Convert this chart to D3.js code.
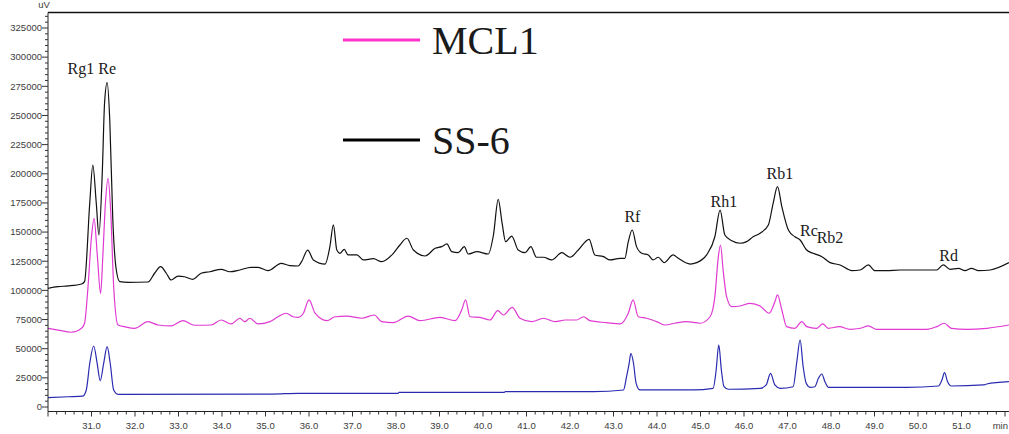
<!DOCTYPE html>
<html>
<head>
<meta charset="utf-8">
<script src="https://cdn.jsdelivr.net/npm/d3@7"></script>
<style>
  body { margin: 0; background: white; }
  svg { display: block; }
  .tick-label { font-family: "Liberation Sans", Arial, sans-serif; font-size: 9.5px; fill: #3c3c3c; }
  .peak-label { font-family: "Liberation Serif", "Times New Roman", serif; font-size: 16px; fill: #1a1a1a; }
  .legend-label { font-family: "Liberation Serif", "Times New Roman", serif; font-size: 40px; fill: #1a1a1a; }
</style>
</head>
<body>
<svg id="chart" width="1009" height="434"></svg>
<script>
// retention time (min), signal (uV)
const ss6 = [
  [30.00,101800],[30.23,103200],[30.46,103800],[30.77,105500],[30.84,107500],[30.96,175000],
  [31.03,207500],[31.11,174700],[31.17,147500],[31.25,203300],[31.30,260500],[31.36,278100],
  [31.42,246100],[31.49,160400],[31.57,117500],[31.65,107500],[31.84,106900],[32.30,107200],
  [32.45,114700],[32.59,120300],[32.72,114700],[32.83,108900],[32.99,112300],[33.14,111700],
  [33.33,109500],[33.52,114700],[33.72,116000],[33.98,118100],[34.18,116000],[34.41,117500],
  [34.67,119800],[34.83,119800],[35.06,116900],[35.36,123200],[35.56,121200],[35.75,120900],
  [35.83,124600],[35.97,134600],[36.10,126100],[36.37,122600],[36.48,137500],[36.56,156100],
  [36.64,134600],[36.71,131800],[36.81,135200],[36.90,130400],[37.10,130400],[37.25,126100],
  [37.48,127200],[37.67,124600],[37.94,131800],[38.09,138900],[38.25,144700],[38.40,134600],
  [38.67,129500],[38.90,136100],[39.05,137500],[39.17,139800],[39.28,133200],[39.43,132300],
  [39.57,137500],[39.66,131200],[39.86,133200],[40.12,131200],[40.24,147500],[40.35,178100],
  [40.44,157500],[40.52,141800],[40.66,146600],[40.81,134600],[40.97,132300],[41.10,137500],
  [41.23,128400],[41.39,128400],[41.58,126100],[41.81,132300],[42.00,128400],[42.19,134600],
  [42.44,143800],[42.57,130400],[42.77,128900],[42.92,126100],[43.15,127500],[43.26,127500],
  [43.34,141800],[43.43,151800],[43.53,137500],[43.65,131800],[43.80,130400],[43.91,126100],
  [44.03,128400],[44.16,123800],[44.37,130400],[44.49,127500],[44.76,122600],[44.91,123800],
  [45.14,130400],[45.33,146000],[45.45,168900],[45.56,147500],[45.72,142600],[45.91,140400],
  [46.06,141800],[46.21,146000],[46.37,149000],[46.56,156100],[46.67,174700],[46.77,188900],
  [46.87,171800],[47.02,151800],[47.17,146000],[47.29,143200],[47.44,134600],[47.59,131800],
  [47.79,128900],[47.98,123800],[48.21,121800],[48.48,116900],[48.67,117500],[48.86,121800],
  [49.01,116900],[49.28,116900],[49.59,117500],[49.93,117500],[50.43,117500],[50.58,121800],
  [50.74,118100],[50.93,118900],[51.08,116900],[51.23,118900],[51.39,116900],[51.66,117500],
  [52.09,123800]
];

const mcl1 = [
  [30.00,67500],[30.23,66000],[30.54,64100],[30.77,67500],[30.84,71800],[30.92,103200],
  [31.00,146000],[31.06,161800],[31.13,131800],[31.21,97500],[31.26,128900],[31.32,174700],
  [31.38,196100],[31.44,168900],[31.51,103200],[31.61,70300],[31.76,68900],[31.99,67500],
  [32.30,73200],[32.53,70300],[32.83,69500],[33.10,74000],[33.37,70100],[33.75,70300],
  [33.98,74600],[34.21,71200],[34.41,76100],[34.52,73200],[34.64,76100],[34.83,71200],
  [35.10,73200],[35.29,77400],[35.48,80400],[35.63,77400],[35.75,76900],[35.87,80400],
  [36.00,91800],[36.14,80400],[36.41,74000],[36.60,77400],[36.87,78000],[37.21,76100],
  [37.50,78900],[37.67,73200],[37.94,72300],[38.28,78000],[38.55,74000],[39.01,76900],
  [39.36,74000],[39.51,83200],[39.60,91800],[39.70,77400],[39.93,76900],[40.16,74600],
  [40.34,82600],[40.47,78900],[40.67,85500],[40.85,76100],[41.12,73200],[41.39,76100],
  [41.66,73200],[41.89,74600],[42.15,74600],[42.31,77400],[42.46,74000],[42.84,72300],
  [43.15,71200],[43.34,80400],[43.45,91800],[43.57,77400],[43.76,76100],[43.99,73200],
  [44.18,70300],[44.41,71800],[44.68,73200],[44.99,71800],[45.22,77400],[45.33,94600],
  [45.41,128900],[45.46,138900],[45.52,117500],[45.60,94600],[45.72,86000],[45.91,86600],
  [46.14,88900],[46.37,86600],[46.58,80400],[46.71,90300],[46.77,96100],[46.87,83200],
  [46.98,68900],[47.17,67500],[47.33,73200],[47.44,68900],[47.67,67500],[47.81,71200],
  [47.94,67500],[48.19,68900],[48.44,66600],[48.67,67500],[48.86,69500],[49.05,66600],
  [49.59,66600],[50.20,66600],[50.43,68900],[50.60,71800],[50.77,67500],[51.12,66600],
  [51.58,67500],[52.09,70300]
];

const standards = [
  [30.00,8000],[30.46,8800],[30.80,9400],[30.88,14600],[30.96,37500],[31.05,52300],
  [31.13,37500],[31.20,22600],[31.28,37500],[31.36,51700],[31.43,37500],[31.51,14600],
  [31.61,10900],[35.13,11100],[35.75,11700],[38.05,11700],[38.07,12600],[40.49,12600],
  [40.51,13100],[42.54,13100],[43.23,14600],[43.30,26000],[43.36,37500],[43.40,46100],
  [43.46,37500],[43.52,20300],[43.61,14600],[44.83,14600],[45.29,16000],[45.36,31700],
  [45.42,53200],[45.48,31700],[45.54,17400],[45.64,15200],[46.37,16000],[46.51,18900],
  [46.61,28900],[46.71,18900],[46.83,16000],[47.13,17400],[47.21,37500],[47.29,57500],
  [47.36,34600],[47.43,20300],[47.52,16900],[47.63,17400],[47.71,24600],[47.79,28300],
  [47.86,21700],[47.94,16900],[49.74,16900],[50.47,18000],[50.55,23200],[50.61,29400],
  [50.68,21700],[50.77,18000],[51.50,18900],[51.58,19700],[52.09,21700]
];

// peak names, where each label starts (time) and its baseline (signal)
const peak_names = ["Rg1 Re", "Rf", "Rh1", "Rb1", "Rc", "Rb2", "Rd"];
const peak_times = [30.45, 43.25, 45.23, 46.52, 47.29, 47.67, 50.49];
const peak_heights = [285600, 158900, 171800, 195300, 146600, 140400, 125400];

const legend_names = ["MCL1", "SS-6"];
const colors = ["#111111", "#e03ad2", "#2b2bb0"];

const svg = d3.select("#chart");

const x = d3.scaleLinear().domain([30, 52]).range([48, 1005]);
const y = d3.scaleLinear().domain([0, 325000]).range([407, 28]);

const plotTop = 12.5;
const axisY = 411.5;

// clip traces to the plot
svg.append("clipPath").attr("id", "plot-clip")
  .append("rect")
  .attr("x", 48).attr("y", plotTop)
  .attr("width", 1009 - 48).attr("height", axisY - plotTop);

const line = d3.line()
  .x(d => x(d[0]))
  .y(d => y(d[1]))
  .curve(d3.curveMonotoneX);

const traces = svg.append("g").attr("clip-path", "url(#plot-clip)");

// blue first, then magenta, black on top
[[standards, colors[2]], [mcl1, colors[1]], [ss6, colors[0]]].forEach(([data, color]) => {
  traces.append("path")
    .datum(data)
    .attr("fill", "none")
    .attr("stroke", color)
    .attr("stroke-width", 1.2)
    .attr("stroke-linejoin", "round")
    .attr("d", line);
});

// frame: top line, left axis, bottom axis
svg.append("line")
  .attr("x1", 48).attr("x2", 1009)
  .attr("y1", plotTop).attr("y2", plotTop)
  .attr("stroke", "#111").attr("stroke-width", 1.3);

svg.append("line")
  .attr("x1", 48).attr("x2", 48)
  .attr("y1", plotTop).attr("y2", axisY)
  .attr("stroke", "#222").attr("stroke-width", 1);

svg.append("line")
  .attr("x1", 48).attr("x2", 1009)
  .attr("y1", axisY).attr("y2", axisY)
  .attr("stroke", "#222").attr("stroke-width", 1);

// y ticks
const yMinor = d3.range(0, 335001, 5000);
svg.append("g").selectAll("line")
  .data(yMinor)
  .enter()
  .append("line")
  .attr("x1", d => d % 25000 == 0 ? 42 : 45)
  .attr("x2", 48)
  .attr("y1", d => y(d)).attr("y2", d => y(d))
  .attr("stroke", "#333").attr("stroke-width", 1);

const yMajor = d3.range(0, 325001, 25000);
svg.append("g").selectAll("text")
  .data(yMajor)
  .enter()
  .append("text")
  .attr("class", "tick-label")
  .attr("text-anchor", "end")
  .attr("x", 42)
  .attr("y", d => y(d) + 3.3)
  .text(d => d);

svg.append("text")
  .attr("class", "tick-label")
  .attr("font-size", "8px")
  .attr("text-anchor", "middle")
  .attr("x", 44).attr("y", 8)
  .text("uV");

// x ticks
const xMinor = d3.range(0, 111).map(i => 30 + i * 0.2);
svg.append("g").selectAll("line")
  .data(xMinor)
  .enter()
  .append("line")
  .attr("x1", d => x(d)).attr("x2", d => x(d))
  .attr("y1", axisY)
  .attr("y2", (d, i) => i % 5 == 0 ? axisY + 5 : axisY + 3)
  .attr("stroke", "#333").attr("stroke-width", 1);

const xLabels = d3.range(31, 52);
svg.append("g").selectAll("text")
  .data(xLabels)
  .enter()
  .append("text")
  .attr("class", "tick-label")
  .attr("text-anchor", "middle")
  .attr("x", d => x(d))
  .attr("y", 428.5)
  .text(d => d.toFixed(1));

svg.append("text")
  .attr("class", "tick-label")
  .attr("text-anchor", "end")
  .attr("x", 1008)
  .attr("y", 428.5)
  .text("min");

// peak labels
svg.append("g").selectAll("text")
  .data(peak_names)
  .enter()
  .append("text")
  .attr("class", "peak-label")
  .attr("x", (d, i) => x(peak_times[i]))
  .attr("y", (d, i) => y(peak_heights[i]))
  .text(d => d);

// legend
const legendY = [40, 140];
const legendColors = ["#ff33cc", "#000000"];
legend_names.forEach((name, i) => {
  svg.append("line")
    .attr("x1", 343).attr("x2", 420)
    .attr("y1", legendY[i]).attr("y2", legendY[i])
    .attr("stroke", legendColors[i])
    .attr("stroke-width", 3);
  svg.append("text")
    .attr("class", "legend-label")
    .attr("x", 432)
    .attr("y", legendY[i] + 14)
    .text(name);
});
</script>
</body>
</html>
